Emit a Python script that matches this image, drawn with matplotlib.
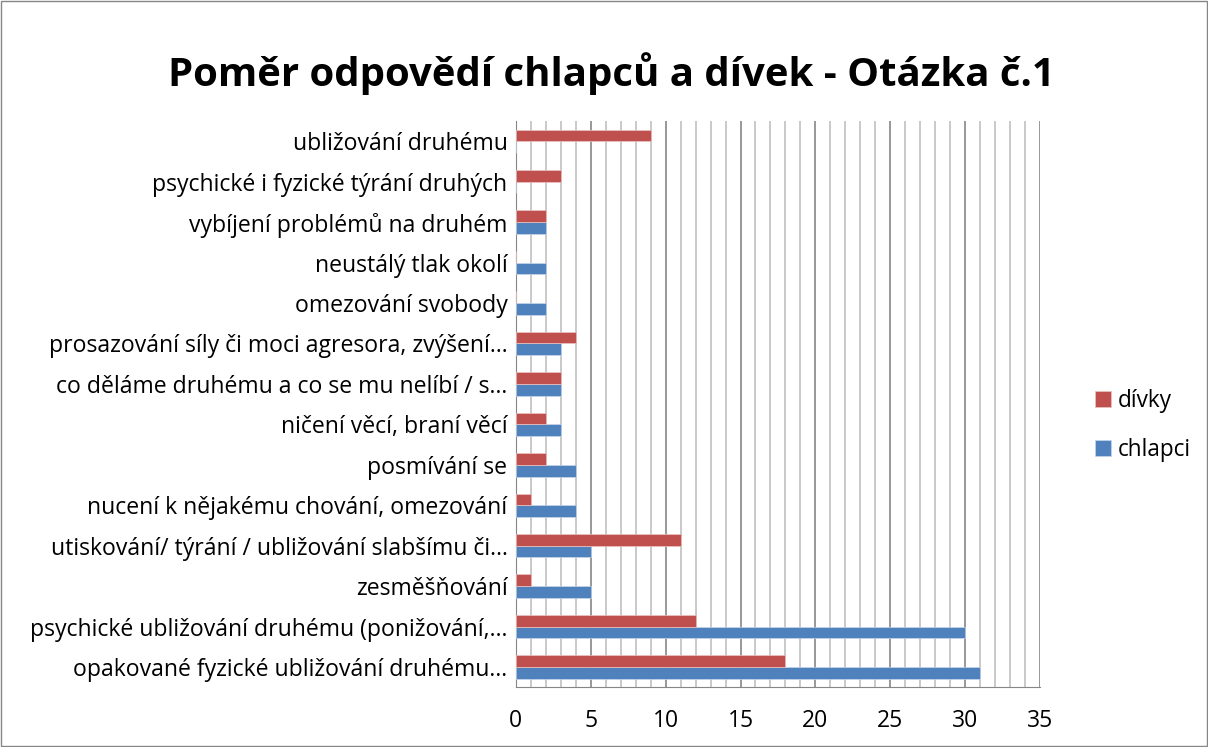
import matplotlib.pyplot as plt
import numpy as np

categories = [
    "opakované fyzické ubližování druhému…",
    "psychické ubližování druhému (ponižování,…",
    "zesměšňování",
    "utiskování/ týrání / ubližování slabšímu či…",
    "nucení k nějakému chování, omezování",
    "posmívání se",
    "ničení věcí, braní věcí",
    "co děláme druhému a co se mu nelíbí / s…",
    "prosazování síly či moci agresora, zvýšení…",
    "omezování svobody",
    "neustálý tlak okolí",
    "vybíjení problémů na druhém",
    "psychické i fyzické týrání druhých",
    "ubližování druhému",
]
chlapci = [31, 30, 5, 5, 4, 4, 3, 3, 3, 2, 2, 2, 0, 0]
divky = [18, 12, 1, 11, 1, 2, 2, 3, 4, 0, 0, 2, 3, 9]

plt.rcParams['font.family'] = ['Open Sans', 'DejaVu Sans']

fig = plt.figure(figsize=(12.08, 7.47), dpi=100)
fig.patches.append(plt.Rectangle((0.001, 0.001), 0.998, 0.998, transform=fig.transFigure,
                                 fill=False, edgecolor='#868686', linewidth=1))
ax = fig.add_axes([0.427, 0.08, 0.434, 0.758])

y = np.arange(len(categories))
h = 0.29
ax.barh(y - h / 2, chlapci, height=h, color='#4F81BD', edgecolor='#c6d6ea', linewidth=0.5,
        label='chlapci', zorder=3)
ax.barh(y + h / 2, divky, height=h, color='#C0504D', edgecolor='#ebc4c3', linewidth=0.5,
        label='dívky', zorder=3)

ax.set_xlim(0, 35)
ax.set_ylim(-0.5, len(categories) - 0.5)
ax.set_xticks(range(0, 36, 5))
ax.set_xticks(range(0, 36), minor=True)
ax.grid(axis='x', which='minor', color='#c0c0c0', linewidth=1.2, zorder=0)
ax.grid(axis='x', which='major', color='#868686', linewidth=1.2, zorder=1)
ax.set_yticks(y)
ax.set_yticklabels(categories, fontsize=16.6)
ax.tick_params(axis='x', labelsize=16.5, length=0, pad=16)
ax.tick_params(axis='y', length=0, pad=6)
ax.tick_params(which='minor', length=0)
for s in ['top', 'right']:
    ax.spines[s].set_visible(False)
ax.spines['left'].set_color('#868686')
ax.spines['bottom'].set_color('#868686')

handles, labels = ax.get_legend_handles_labels()
fig.legend(handles[::-1], labels[::-1], loc='center left', bbox_to_anchor=(0.89, 0.43),
           frameon=False, fontsize=16.3, handlelength=0.7, handleheight=0.7,
           handletextpad=0.3, labelspacing=1.1)

fig.text(0.506, 0.901, "Poměr odpovědí chlapců a dívek - Otázka č.1", ha='center', va='center',
         fontsize=28.9, fontweight='bold')

fig.savefig('out.png', dpi=100)
